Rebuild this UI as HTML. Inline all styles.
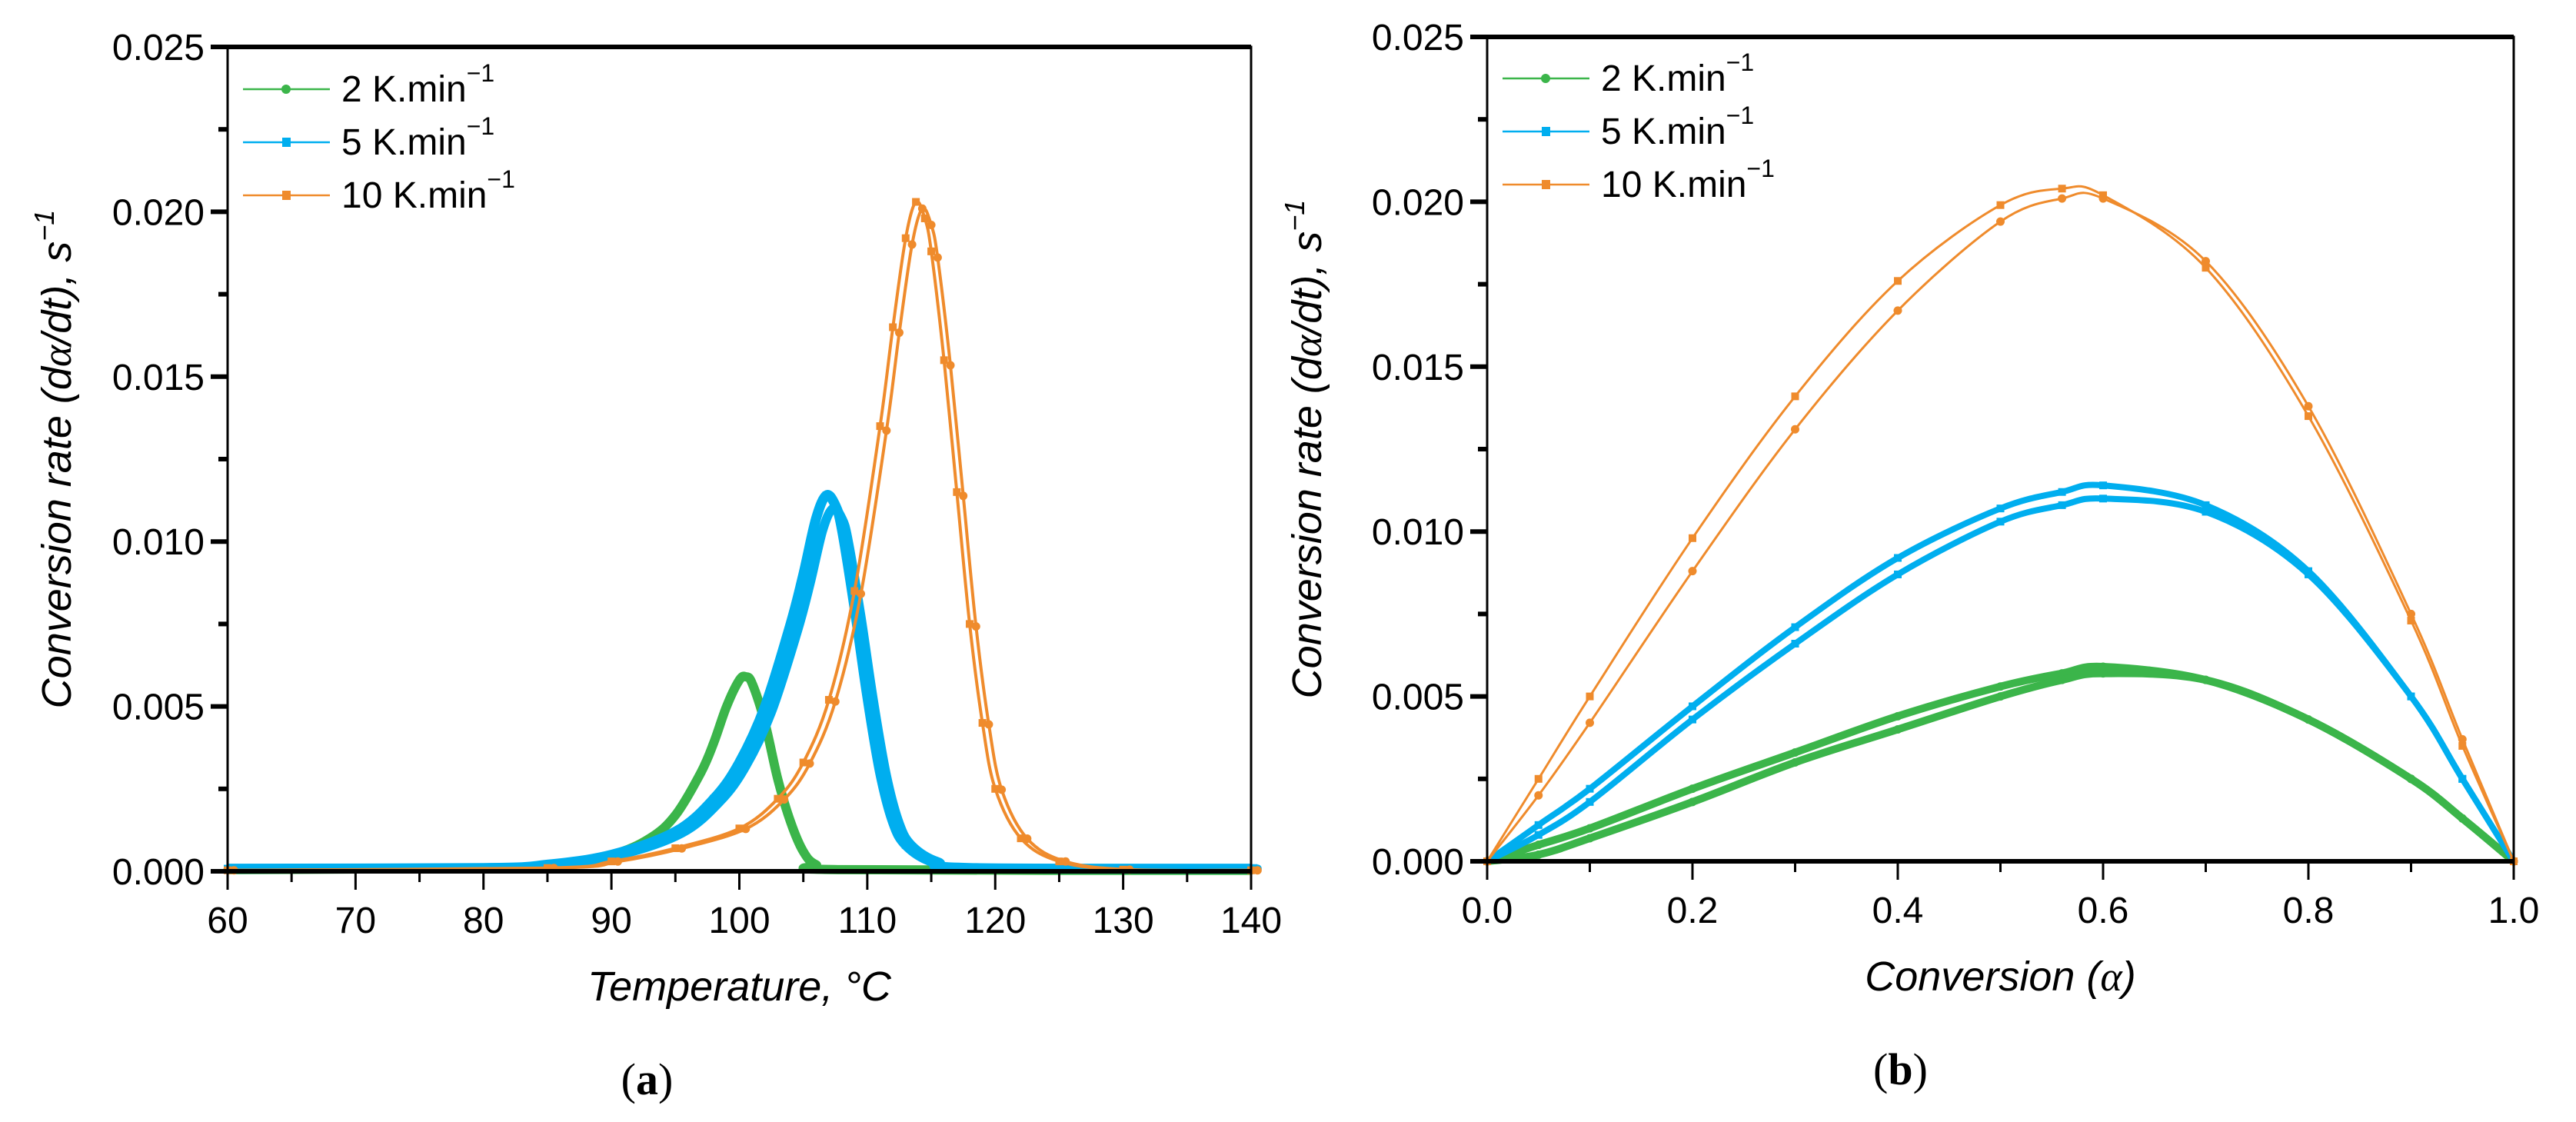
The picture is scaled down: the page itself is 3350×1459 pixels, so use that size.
<!DOCTYPE html>
<html><head><meta charset="utf-8">
<style>
html,body{margin:0;padding:0;background:#fff;}
svg{display:block;}
text{font-family:"Liberation Sans",Arial,sans-serif;fill:#000;}
</style></head>
<body>
<svg id="fig" width="3350" height="1459" xmlns="http://www.w3.org/2000/svg"></svg>
<script>
// ---- Panel (a) data: temperature (°C) vs conversion rate ----
const aGreenT = [60,80,85,90,93,95,97,98,99,100,100.5,101,102,103,104,105,106,108,140];
const aGreenR = [0.00005,0.0001,0.0002,0.0005,0.0010,0.0017,0.0030,0.0039,0.0050,0.0058,0.0059,0.0057,0.0045,0.0028,0.0015,0.0006,0.0002,0.00005,0.00003];
const aBlueT = [60,80,85,90,95,98,100,102,104,105,106,106.8,107.5,108,109,110,111,112,113,115,118,140];
const aBlueR = [0.00008,0.0001,0.0002,0.0005,0.0012,0.0022,0.0033,0.0050,0.0075,0.0090,0.0107,0.0114,0.0111,0.0104,0.0080,0.0053,0.0030,0.0015,0.0008,0.0003,0.0001,0.00008];
const aOrangeT = [60,85,90,95,100,103,105,107,109,111,112,113,113.8,114.5,115,116,117,118,119,120,122,125,130,140];
const aOrangeR = [0.00003,0.0001,0.0003,0.0007,0.0013,0.0022,0.0033,0.0052,0.0085,0.0135,0.0165,0.0192,0.0203,0.0198,0.0188,0.0155,0.0115,0.0075,0.0045,0.0025,0.0010,0.0003,0.00005,0.00003];
const aXTicks = [60,70,80,90,100,110,120,130,140];
const yTicks = [0.000,0.005,0.010,0.015,0.020,0.025];
const yTickLabels = ["0.000","0.005","0.010","0.015","0.020","0.025"];
// ---- Panel (b) data: conversion vs rate (upper/lower branches) ----
const bAlpha = [0,0.05,0.1,0.2,0.3,0.4,0.5,0.56,0.6,0.7,0.8,0.9,0.95,1];
const bOrangeUp = [0,0.0025,0.0050,0.0098,0.0141,0.0176,0.0199,0.0204,0.0202,0.0180,0.0135,0.0073,0.0035,0];
const bOrangeLo = [0,0.0020,0.0042,0.0088,0.0131,0.0167,0.0194,0.0201,0.0201,0.0182,0.0138,0.0075,0.0037,0];
const bBlueUp = [0,0.0011,0.0022,0.0047,0.0071,0.0092,0.0107,0.0112,0.0114,0.0108,0.0088,0.0050,0.0025,0];
const bBlueLo = [0,0.0008,0.0018,0.0043,0.0066,0.0087,0.0103,0.0108,0.0110,0.0106,0.0087,0.0050,0.0025,0];
const bGreenUp = [0,0.0005,0.0010,0.0022,0.0033,0.0044,0.0053,0.0057,0.0059,0.0055,0.0043,0.0025,0.0013,0];
const bGreenLo = [0,0.0002,0.0007,0.0018,0.0030,0.0040,0.0050,0.0055,0.0057,0.0055,0.0043,0.0025,0.0013,0];
const bXTicks = [0,0.2,0.4,0.6,0.8,1.0];
const bXTickLabels = ["0.0","0.2","0.4","0.6","0.8","1.0"];
const legendLabels = ["2 K.min","5 K.min","10 K.min"];

const NS="http://www.w3.org/2000/svg";
const svg=document.getElementById('fig');
const GREEN="#3bb54a", BLUE="#00aeef", ORANGE="#ef8b2c";
function mk(tag,attrs,parent){const e=document.createElementNS(NS,tag);for(const k in attrs)e.setAttribute(k,attrs[k]);(parent||svg).appendChild(e);return e;}
function smooth(p){
  let d='M'+p[0][0].toFixed(1)+','+p[0][1].toFixed(1);
  for(let i=0;i<p.length-1;i++){
    const p0=p[Math.max(0,i-1)],p1=p[i],p2=p[i+1],p3=p[Math.min(p.length-1,i+2)];
    const c1x=p1[0]+(p2[0]-p0[0])/6,c1y=p1[1]+(p2[1]-p0[1])/6;
    const c2x=p2[0]-(p3[0]-p1[0])/6,c2y=p2[1]-(p3[1]-p1[1])/6;
    d+=` C${c1x.toFixed(1)},${c1y.toFixed(1)} ${c2x.toFixed(1)},${c2y.toFixed(1)} ${p2[0].toFixed(1)},${p2[1].toFixed(1)}`;
  }
  return d;
}

function panel(P){
  const g=mk('g',{});
  
  
  const sx=v=>P.x0+(v-P.xmin)/(P.xmax-P.xmin)*(P.x1-P.x0);
  const sy=v=>P.y0+(v-0)/(0.025)*(P.y1-P.y0);
  P.series.forEach(s=>{
    const pts=s.x.map((v,i)=>[sx(v),sy(s.y[i])]);
    const pl=mk('path',{d:smooth(pts),fill:'none',stroke:s.color,'stroke-width':s.w,'stroke-linejoin':'round'},g);
    
    
    s.x.forEach((v,i)=>{
      const m=s.sq?mk('rect',{x:sx(v)-5,y:sy(s.y[i])-5,width:10,height:10,fill:s.color},g):mk('circle',{cx:sx(v),cy:sy(s.y[i]),r:5.5,fill:s.color},g);
      
      
    });
  });
  const fr=mk('rect',{x:P.x0,y:P.y1,width:P.x1-P.x0,height:P.y0-P.y1,fill:'none',stroke:'#000','stroke-width':3},g);
  
  
  mk('line',{x1:P.x0-10,x2:P.x1,y1:P.y1,y2:P.y1,stroke:'#000','stroke-width':6},g);
  mk('line',{x1:P.x0-10,x2:P.x1,y1:P.y0,y2:P.y0,stroke:'#000','stroke-width':6},g);
  yTicks.forEach((v,i)=>{
    const y=sy(v);
    mk('line',{x1:P.x0-22,x2:P.x0,y1:y,y2:y,stroke:'#000','stroke-width':6},g);
    const t=mk('text',{x:P.x0-30,y:y+17,'text-anchor':'end','font-size':48},g);
    t.textContent=yTickLabels[i];
    
    
    if(i<yTicks.length-1){const ym=sy(v+0.0025);mk('line',{x1:P.x0-12,x2:P.x0,y1:ym,y2:ym,stroke:'#000','stroke-width':6},g);}
  });
  P.xt.forEach((v,i)=>{
    const x=sx(v);
    mk('line',{x1:x,x2:x,y1:P.y0,y2:P.y0+24,stroke:'#000','stroke-width':3},g);
    const t=mk('text',{x:x,y:P.y0+80,'text-anchor':'middle','font-size':48},g);
    t.textContent=P.xtl[i];
    
    
    if(i<P.xt.length-1){const xm=sx((v+P.xt[i+1])/2);mk('line',{x1:xm,x2:xm,y1:P.y0,y2:P.y0+14,stroke:'#000','stroke-width':3},g);}
  });
  const xt=mk('text',{x:(P.x0+P.x1)/2,y:P.y0+168,'text-anchor':'middle','font-size':54,'font-style':'italic'},g);
  xt.innerHTML=P.xtitle;
  
  
  const yc=(P.y0+P.y1)/2;
  const yt=mk('text',{x:0,y:0,'text-anchor':'middle','font-size':54,'font-style':'italic',transform:`translate(${P.ytx},${yc}) rotate(-90)`},g);
  yt.innerHTML='Conversion rate (d<tspan font-family="Liberation Serif">α</tspan>/dt), s<tspan font-size="36" dy="-22">−1</tspan>';
  
  
  const cap=mk('text',{x:(P.x0+P.x1)/2+P.capdx,y:P.y0+290,'text-anchor':'middle','font-size':58,style:'font-family:"Liberation Serif",serif'},g);
  cap.innerHTML='(<tspan font-weight="bold">'+P.cap+'</tspan>)';
  
  
  const cols=[GREEN,BLUE,ORANGE];
  legendLabels.forEach((lab,i)=>{
    const y=P.ly+i*69;
    const le=mk('g',{},g);
    
    
    mk('line',{x1:P.lx,x2:P.lx+113,y1:y,y2:y,stroke:cols[i],'stroke-width':2.5},le);
    if(i==0)mk('circle',{cx:P.lx+56,cy:y,r:6,fill:cols[i]},le);
    else mk('rect',{x:P.lx+51,y:y-6,width:11,height:12,fill:cols[i]},le);
    const t=mk('text',{x:P.lx+128,y:y+16,'font-size':48},le);
    t.innerHTML=lab+'<tspan font-size="32" dy="-26">−1</tspan>';
  });
}

panel({name:'panel-a-temperature',x0:296,x1:1627,y0:1133,y1:61,xmin:60,xmax:140,xt:aXTicks,xtl:aXTicks.map(String),
  xtitle:'Temperature, °C',ytx:92,cap:'a',capdx:-120,lx:316,ly:116,
  series:[
    {name:'series-2K',x:aGreenT,y:aGreenR,color:GREEN,w:12,sq:false},
    {name:'series-5K',x:aBlueT,y:aBlueR,color:BLUE,w:13,sq:true},
    {name:'series-5K-b',x:aBlueT.map(v=>v+0.5),y:aBlueR.map(v=>v*0.965),color:BLUE,w:12,sq:false},
    {name:'series-10K',x:aOrangeT,y:aOrangeR,color:ORANGE,w:4,sq:true},
    {name:'series-10K-b',x:aOrangeT.map(v=>v+0.5),y:aOrangeR.map(v=>v*0.99),color:ORANGE,w:4,sq:false}
  ]});
panel({name:'panel-b-conversion',x0:1934,x1:3269,y0:1120,y1:48,xmin:0,xmax:1,xt:bXTicks,xtl:bXTickLabels,
  xtitle:'Conversion (<tspan font-family="Liberation Serif">α</tspan>)',ytx:1718,cap:'b',capdx:-130,lx:1954,ly:102,
  series:[
    {name:'series-2K-up',x:bAlpha,y:bGreenUp,color:GREEN,w:10,sq:false},
    {name:'series-2K-lo',x:bAlpha,y:bGreenLo,color:GREEN,w:10,sq:false},
    {name:'series-5K-up',x:bAlpha,y:bBlueUp,color:BLUE,w:8,sq:true},
    {name:'series-5K-lo',x:bAlpha,y:bBlueLo,color:BLUE,w:8,sq:true},
    {name:'series-10K-up',x:bAlpha,y:bOrangeUp,color:ORANGE,w:3,sq:true},
    {name:'series-10K-lo',x:bAlpha,y:bOrangeLo,color:ORANGE,w:3,sq:false}
  ]});
</script>
</body></html>
